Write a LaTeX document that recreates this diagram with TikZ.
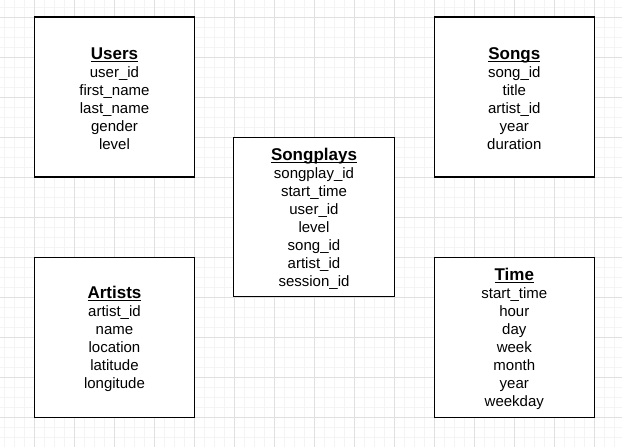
\documentclass[tikz,border=0pt]{standalone}
\usepackage{fontspec}
\setmainfont{Liberation Sans}
\newcommand\ulttl[1]{\setbox0\hbox{\bfseries\fontsize{17}{19}\selectfont #1}\rlap{\rule[-2.2pt]{\wd0}{1.1pt}}\box0}
\definecolor{gridminor}{HTML}{F4F4F4}
\definecolor{gridmajor}{HTML}{E0E0E0}
\tikzset{
  tbl/.style={draw=black, line width=1.2pt, fill=white, minimum width=160pt, minimum height=160pt, inner sep=0pt},
  tbltext/.style={align=center, inner sep=0pt, font=\fontsize{15}{18}\selectfont},
  gridmin/.style={draw=gridminor, line width=0.8pt},
  gridmaj/.style={draw=gridmajor, line width=0.8pt}
}
\begin{document}
\begin{tikzpicture}[x=1pt,y=-1pt]
\useasboundingbox (0,0) rectangle (622,447);
\fill[white] (0,0) rectangle (622,447);
\foreach \gx in {4.3,14.3,...,624} \draw[gridmin] (\gx,0) -- (\gx,447);
\foreach \gy in {7.3,17.3,...,448} \draw[gridmin] (0,\gy) -- (622,\gy);
\foreach \gx in {34.3,74.3,...,624} \draw[gridmaj] (\gx,0) -- (\gx,447);
\foreach \gy in {17.3,57.3,...,448} \draw[gridmaj] (0,\gy) -- (622,\gy);

\node[tbl] (users) at (114.5,97) {};
\node[tbl] (songs) at (514.3,97) {};
\node[tbl, minimum width=161pt, minimum height=159pt] (songplays) at (314,217) {};
\node[tbl] (artists) at (114.5,337.3) {};
\node[tbl] (time) at (514.3,337.3) {};

\tikzset{tshift/.style={yshift=-2pt}}
\node[tbltext, tshift] (userst) at (users.center) {\ulttl{Users}\\ user\_id\\ first\_name\\ last\_name\\ gender\\ level};
\node[tbltext, tshift] (songst) at (songs.center) {\ulttl{Songs}\\ song\_id\\ title\\ artist\_id\\ year\\ duration};
\node[tbltext, tshift] (songplayst) at (songplays.center) {\ulttl{Songplays}\\ songplay\_id\\ start\_time\\ user\_id\\ level\\ song\_id\\ artist\_id\\ session\_id};
\node[tbltext, tshift] (artistst) at (artists.center) {\ulttl{Artists}\\ artist\_id\\ name\\ location\\ latitude\\ longitude};
\node[tbltext, tshift] (timet) at (time.center) {\ulttl{Time}\\ start\_time\\ hour\\ day\\ week\\ month\\ year\\ weekday};
\end{tikzpicture}
\end{document}
